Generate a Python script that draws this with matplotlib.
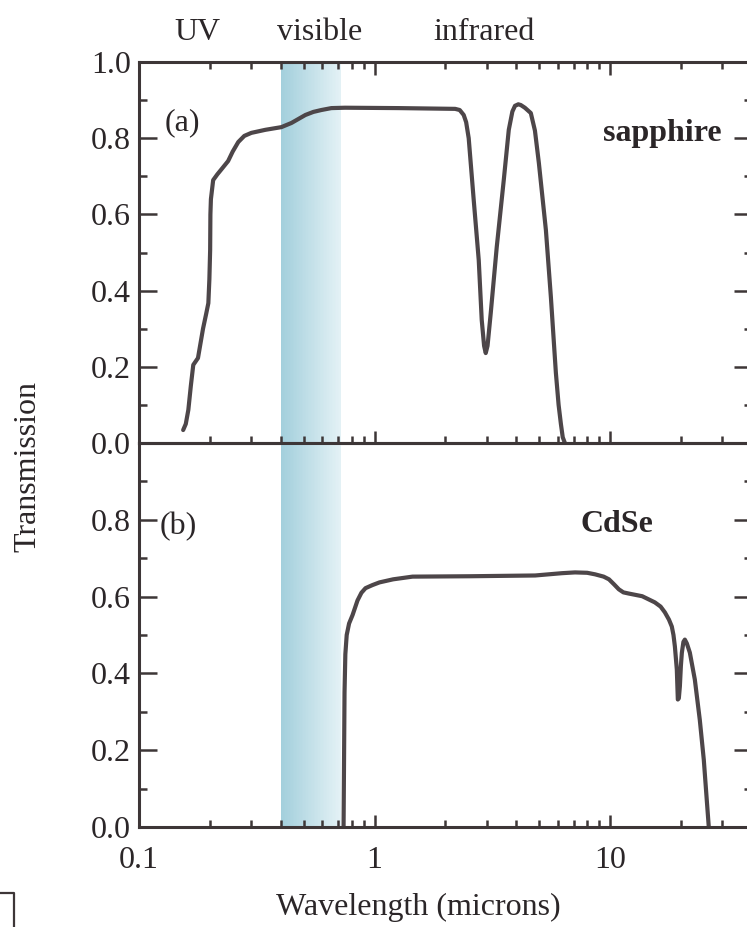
import numpy as np
import matplotlib
matplotlib.use("Agg")
import matplotlib.pyplot as plt
import matplotlib.ticker as ticker
from matplotlib.lines import Line2D
from matplotlib.colors import to_rgb

# ---- data ----
# (a) sapphire transmission
sapphire_wl = [0.154, 0.158, 0.162, 0.166, 0.170, 0.178, 0.187, 0.193, 0.197,
               0.199, 0.2005, 0.2010, 0.2020, 0.2065, 0.215, 0.223, 0.239,
               0.250, 0.264, 0.280, 0.300, 0.344, 0.402, 0.444, 0.480, 0.509,
               0.550, 0.595, 0.656, 0.75, 1.265, 2.20, 2.30, 2.392, 2.45,
               2.512, 2.638, 2.771, 2.853, 2.92, 2.967, 3.02, 3.116, 3.304,
               3.539, 3.717, 3.85, 3.95, 4.08, 4.181, 4.35, 4.611, 4.80,
               4.988, 5.343, 5.610, 5.891, 6.05, 6.187, 6.30, 6.434]
sapphire_tr = [0.034, 0.050, 0.087, 0.150, 0.205, 0.223, 0.300, 0.340, 0.367,
               0.430, 0.507, 0.600, 0.640, 0.690, 0.705, 0.717, 0.740,
               0.765, 0.790, 0.806, 0.814, 0.822, 0.829, 0.840, 0.852, 0.861,
               0.869, 0.874, 0.879, 0.880, 0.879, 0.877, 0.874, 0.861, 0.842,
               0.800, 0.638, 0.480, 0.323, 0.255, 0.236, 0.255, 0.341, 0.514,
               0.690, 0.822, 0.870, 0.885, 0.889, 0.887, 0.880, 0.866, 0.820,
               0.735, 0.559, 0.383, 0.184, 0.100, 0.050, 0.015, 0.0]

# (b) CdSe transmission
cdse_wl = [0.739, 0.742, 0.746, 0.752, 0.762, 0.780, 0.807, 0.847, 0.88, 0.916,
           0.98, 1.05, 1.20, 1.45, 2.53, 4.81, 6.26, 7.10, 8.0, 8.64, 9.40,
           9.90, 10.4, 10.9, 11.4, 12.0, 13.7, 15.5, 16.4, 17.1, 17.8, 18.3,
           18.6, 18.86, 19.22, 19.41, 19.60, 19.80, 20.0, 20.19, 20.50, 20.79,
           21.2, 21.83, 22.92, 24.06, 25.02, 25.76, 26.27]
cdse_tr = [0.0, 0.15, 0.35, 0.45, 0.50, 0.530, 0.552, 0.590, 0.610, 0.622,
           0.630, 0.637, 0.645, 0.652, 0.653, 0.655, 0.661, 0.663, 0.662,
           0.658, 0.652, 0.645, 0.632, 0.619, 0.611, 0.608, 0.601, 0.585,
           0.574, 0.559, 0.540, 0.522, 0.500, 0.470, 0.410, 0.332, 0.335,
           0.366, 0.420, 0.454, 0.482, 0.488, 0.478, 0.454, 0.384, 0.279,
           0.175, 0.070, 0.0]

visible_band = (0.40, 0.72)
region_names = ["UV", "visible", "infrared"]

W, H = 747, 927
FONT = "Liberation Serif"
INK = "#2b2628"
LINE = "#4d4649"
SPINE = "#3d3637"

plt.rcParams["font.family"] = FONT
plt.rcParams["font.size"] = 23

fig = plt.figure(figsize=(W / 100, H / 100), dpi=100)

left = 139 / W
width = 235.5 * np.log10(400) / W
ax_top = fig.add_axes([left, 1 - 443 / H, width, (443 - 62) / H])
ax_bot = fig.add_axes([left, 1 - 827 / H, width, (827 - 443) / H])


def shade_visible(ax, lo, hi, n=40):
    edges = np.geomspace(lo, hi, n + 1)
    c0 = np.array(to_rgb("#a3cfdc"))
    c1 = np.array(to_rgb("#e3f1f5"))
    for i in range(n):
        f = i / (n - 1)
        ax.axvspan(edges[i], edges[i + 1], color=c0 + (c1 - c0) * f,
                   lw=0, zorder=0)


for ax in (ax_top, ax_bot):
    shade_visible(ax, *visible_band)
    ax.set_xscale("log")
    ax.set_xlim(0.1, 40)
    ax.set_ylim(0, 1.0)
    ax.xaxis.set_major_locator(ticker.LogLocator(base=10, numticks=10))
    ax.xaxis.set_minor_locator(ticker.LogLocator(base=10, subs=np.arange(2, 10), numticks=10))
    ax.yaxis.set_major_locator(ticker.MultipleLocator(0.2))
    ax.yaxis.set_minor_locator(ticker.MultipleLocator(0.1))
    ax.yaxis.set_major_formatter(ticker.FormatStrFormatter("%.1f"))
    ax.tick_params(axis="both", which="both", direction="in", top=True, right=True,
                   color=SPINE, labelcolor=INK, width=1.8)
    ax.tick_params(axis="y", which="major", length=13, pad=6)
    ax.tick_params(axis="y", which="minor", length=6)
    ax.tick_params(axis="x", which="major", length=9)
    ax.tick_params(axis="x", which="minor", length=5)
    for s in ax.spines.values():
        s.set_color(SPINE)
        s.set_linewidth(2.2)
    ax.set_facecolor("none")

ax_top.plot(sapphire_wl, sapphire_tr, color=LINE, lw=3.0,
            solid_capstyle="round", solid_joinstyle="round")
ax_bot.plot(cdse_wl, cdse_tr, color=LINE, lw=3.0,
            solid_capstyle="round", solid_joinstyle="round")

ax_top.tick_params(axis="x", labelbottom=False)
ax_bot.tick_params(axis="x", which="both", top=False)
ax_bot.set_yticks([0.0, 0.2, 0.4, 0.6, 0.8])
ax_bot.xaxis.set_major_formatter(ticker.FuncFormatter(lambda v, _: f"{v:g}"))
ax_bot.tick_params(axis="x", which="major", pad=14)


def ftext(x, y, s, **kw):
    fig.text(x / W, 1 - y / H, s, color=INK, **kw)


for name, xc in zip(region_names, [197, 320, 484]):
    ftext(xc, 33, name, ha="center", va="center")

ftext(165, 123, "(a)", ha="left", va="center")
ftext(722, 134, "sapphire", ha="right", va="center", fontweight="bold")
ftext(160, 527, "(b)", ha="left", va="center")
ftext(617, 524, "CdSe", ha="center", va="center", fontweight="bold")
ftext(28, 466, "Transmission", ha="center", va="center", rotation=90)
ftext(418, 907, "Wavelength (microns)", ha="center", va="center")

# small bracket mark left by the scan at the lower left corner
fig.add_artist(Line2D([0, 14 / W, 14 / W], [1 - 893 / H, 1 - 893 / H, 0],
                      transform=fig.transFigure, color=SPINE, lw=1.6))

fig.savefig("out.png", dpi=100)
